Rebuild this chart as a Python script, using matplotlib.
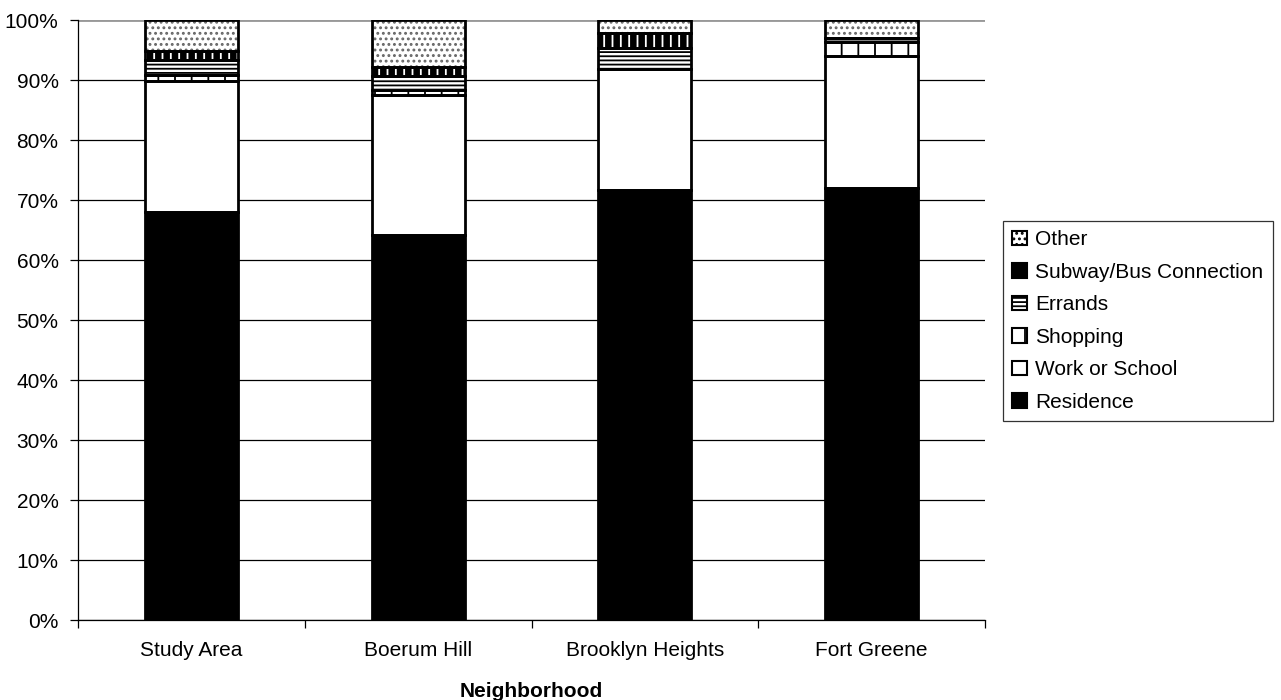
import numpy as np
import matplotlib.pyplot as plt
from matplotlib.patches import Patch
from matplotlib.ticker import PercentFormatter

plt.rcParams['font.family'] = ['Liberation Sans', 'DejaVu Sans']
plt.rcParams['hatch.linewidth'] = 1.3

# share of trips (%) by purpose, per neighborhood
neighborhoods = ['Study Area', 'Boerum Hill', 'Brooklyn Heights', 'Fort Greene']
residence = [68.0, 64.2, 71.7, 72.0]
work_school = [21.8, 23.3, 20.1, 22.0]
shopping = [1.0, 0.8, 0.0, 2.4]
errands = [2.6, 2.3, 3.5, 0.6]
subway_bus = [1.4, 1.5, 2.5, 0.0]
other = [5.2, 7.9, 2.2, 3.0]

series = [
    ('Residence', residence, dict(face='black', hatch=None, hc='black')),
    ('Work or School', work_school, dict(face='white', hatch=None, hc='white')),
    ('Shopping', shopping, dict(face='white', hatch='|', hc='black')),
    ('Errands', errands, dict(face='white', hatch='----', hc='black')),
    ('Subway/Bus Connection', subway_bus, dict(face='black', hatch='||', hc='white')),
    ('Other', other, dict(face='white', hatch='...', hc='#666666')),
]

fig = plt.figure(figsize=(12.81, 7), dpi=100)
ax = fig.add_axes([78 / 1281, 1 - 620 / 700, 907 / 1281, 600 / 700])

x = np.arange(len(neighborhoods))
width = 0.41
bottom = np.zeros(len(neighborhoods))
for name, vals, st in series:
    vals = np.array(vals)
    ax.bar(x, vals, width, bottom=bottom, color=st['face'], hatch=st['hatch'],
           edgecolor=st['hc'], linewidth=0, zorder=3)
    ax.bar(x, vals, width, bottom=bottom, fill=False, edgecolor='black',
           linewidth=2.0, zorder=4)
    bottom += vals

ax.set_ylim(0, 100)
ax.set_xlim(-0.5, 3.5)
ax.set_yticks(np.arange(0, 101, 10))
ax.yaxis.set_major_formatter(PercentFormatter(decimals=0))
ax.grid(axis='y', color='black', linewidth=0.9, zorder=0)
ax.set_axisbelow(True)

ax.set_xticks(x)
ax.set_xticklabels(neighborhoods)
ax.set_xticks(np.arange(-0.5, 4, 1), minor=True)
ax.tick_params(axis='x', which='major', length=0, pad=15, labelsize=15)
ax.tick_params(axis='x', which='minor', length=6, width=0.9, color='black')
ax.tick_params(axis='y', length=6, width=0.9, labelsize=15, pad=8)

for s in ['top', 'right']:
    ax.spines[s].set_visible(False)
ax.spines['left'].set_linewidth(0.9)
ax.spines['bottom'].set_linewidth(0.9)
ax.axhline(100, color='#999999', linewidth=2.0, zorder=1)

ax.set_xlabel('Neighborhood', fontsize=15, fontweight='bold', labelpad=16)

handles = [Patch(facecolor=st['face'], hatch=st['hatch'], edgecolor='black',
                 linewidth=1.5, label=name) for name, _, st in series][::-1]
leg = fig.legend(handles=handles, loc='center left',
                 bbox_to_anchor=(1003 / 1281, 1 - 321 / 700),
                 fontsize=15, frameon=True, fancybox=False, edgecolor='black',
                 handlelength=0.7, handleheight=0.7, handletextpad=0.4,
                 labelspacing=0.65, borderpad=0.45, borderaxespad=0)
leg.get_frame().set_linewidth(0.9)

fig.savefig('out.png', dpi=100)
